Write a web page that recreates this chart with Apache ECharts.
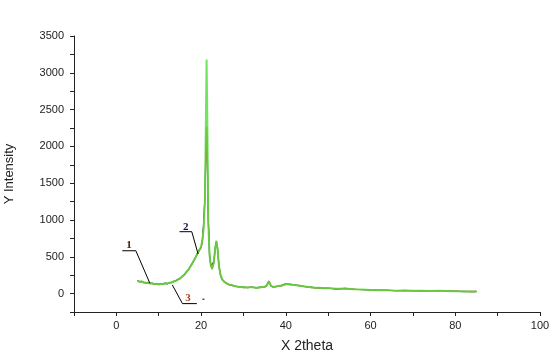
<!DOCTYPE html>
<html><head><meta charset="utf-8">
<script src="https://cdn.jsdelivr.net/npm/echarts@6/dist/echarts.min.js"></script>
<style>html,body{margin:0;padding:0;background:#fff}#c{width:560px;height:359px}</style>
</head><body><div id="c"></div>
<script>
const xVals = [5,5.5,6,6.5,7,7.5,8,8.5,9,9.5,10,10.5,11,11.5,12,12.5,13,13.5,14,14.5,15,15.5,16,16.5,17,17.5,18,18.5,19,19.5,20,20.3,20.6,20.9,21.1,21.3,21.5,21.7,22,22.3,22.6,23,23.3,23.6,23.9,24.2,24.6,25,25.5,26,26.5,27,27.5,28,29,30,31,32,33,34,35,35.5,36,36.5,37,38,39,40,41,42,43,44,45,46,47,48,49,50,52,54,56,58,60,62,64,66,68,70,72,74,76,78,80,82,84,85];
const greenY = [175,160,168,150,145,150,138,140,128,135,125,132,130,140,135,148,150,165,172,190,205,230,255,290,325,370,420,470,530,580,640,720,880,1250,2200,3180,2200,950,520,380,340,420,600,720,600,380,250,190,160,140,125,115,110,100,92,85,82,88,80,85,92,110,165,105,90,100,110,130,125,118,110,100,92,85,80,78,72,75,65,70,60,55,50,45,45,40,42,38,40,35,38,35,32,30,28,28];
const redY   = [170,165,160,155,140,148,142,135,130,130,128,128,135,135,140,145,155,160,178,185,210,225,260,285,330,365,425,465,540,575,620,700,900,1300,1800,2270,1700,1000,500,390,330,410,580,700,590,370,255,185,165,135,128,112,112,98,95,82,85,85,82,82,95,105,160,108,88,102,105,128,128,115,112,98,95,82,82,75,75,72,68,66,62,52,52,42,48,38,44,36,42,33,40,33,35,28,30,26];
const blackY = [180,158,165,148,150,145,135,142,125,138,122,135,128,142,132,150,148,168,170,195,200,235,250,295,320,375,415,475,525,590,630,730,950,1310,1900,2260,1800,1010,540,370,350,430,610,710,610,390,245,195,155,145,122,118,108,102,90,88,80,90,78,88,90,112,170,102,92,98,112,132,122,120,108,102,90,88,78,80,70,76,62,72,58,56,48,47,43,42,40,40,38,37,36,36,30,32,27,29];
const xTicks = [0,20,40,60,80,100];
const yTicks = [0,500,1000,1500,2000,2500,3000,3500];

const chart = echarts.init(document.getElementById('c'), null, {renderer:'canvas'});
const pair = ys => xVals.map((x,i)=>[x, ys[i]]);
const FONT = '"Liberation Sans", Arial, sans-serif';
chart.setOption({
  animation:false,
  backgroundColor:'#fff',
  grid:{left:74, right:20, top:36, bottom:47, containLabel:false, outerBoundsMode:'none'},
  xAxis:{type:'value', min:-10, max:100, interval:10,
    name:'X 2theta', nameLocation:'middle', nameGap:27,
    nameTextStyle:{fontFamily:FONT, fontSize:14, color:'#222'},
    axisLine:{onZero:false, lineStyle:{color:'#222', width:1}},
    axisTick:{show:true, inside:false, length:4, lineStyle:{color:'#222'}},
    axisLabel:{margin:8, fontFamily:FONT, fontSize:11, color:'#222',
      formatter:v=> xTicks.indexOf(v)>=0 ? String(v) : ''},
    splitLine:{show:false}},
  yAxis:{type:'value', min:-250, max:3500, interval:250,
    name:'Y Intensity', nameLocation:'middle', nameGap:58, nameRotate:90,
    nameTextStyle:{fontFamily:FONT, fontSize:13, color:'#222'},
    axisLine:{show:true, onZero:false, lineStyle:{color:'#222', width:1}},
    axisTick:{show:true, inside:false, length:4, lineStyle:{color:'#222'}},
    axisLabel:{margin:10, fontFamily:FONT, fontSize:11, color:'#222',
      formatter:v=> yTicks.indexOf(v)>=0 ? String(v) : ''},
    splitLine:{show:false}},
  series:[
    {type:'line', data:pair(blackY), showSymbol:false, lineStyle:{color:'#222222', width:1.2}, z:2},
    {type:'line', data:pair(redY), showSymbol:false, lineStyle:{color:'#d2451e', width:1.2}, z:3},
    {type:'line', data:pair(greenY), showSymbol:false, lineStyle:{color:'#5ade47', width:2, opacity:0.85}, z:4}
  ]
});

// annotation leader lines, in data coordinates
const notes = [
  {label:'1', color:'#3a1a00', text:[3.0,660], under:[[1.4,582],[4.6,582]], lead:[[4.6,582],[7.9,142]]},
  {label:'2', color:'#101040', text:[16.4,905], under:[[14.9,841],[17.8,841]], lead:[[17.8,841],[19.3,537]]},
  {label:'3', color:'#b04010', text:[16.9,-60], under:[[15.6,-136],[19.0,-136]], lead:[[15.6,-136],[13.2,119]]}
];
const P = p => chart.convertToPixel({gridIndex:0}, p);
const g = [];
notes.forEach(n=>{
  const u0=P(n.under[0]), u1=P(n.under[1]), l0=P(n.lead[0]), l1=P(n.lead[1]), t=P(n.text);
  g.push({type:'line', shape:{x1:u0[0],y1:u0[1],x2:u1[0],y2:u1[1]}, style:{stroke:'#000', lineWidth:1}, z:10});
  g.push({type:'line', shape:{x1:l0[0],y1:l0[1],x2:l1[0],y2:l1[1]}, style:{stroke:'#000', lineWidth:1}, z:10});
  g.push({type:'text', x:t[0], y:t[1], style:{text:n.label, fill:n.color, font:'bold 11px "Liberation Serif", "Times New Roman", serif', align:'center', verticalAlign:'middle'}, z:10});
});
const d0=P([20.3,-76]), d1=P([20.8,-76]);
g.push({type:'line', shape:{x1:d0[0],y1:d0[1],x2:d1[0],y2:d1[1]}, style:{stroke:'#000', lineWidth:1}, z:10});
chart.setOption({graphic:g});
</script></body></html>
